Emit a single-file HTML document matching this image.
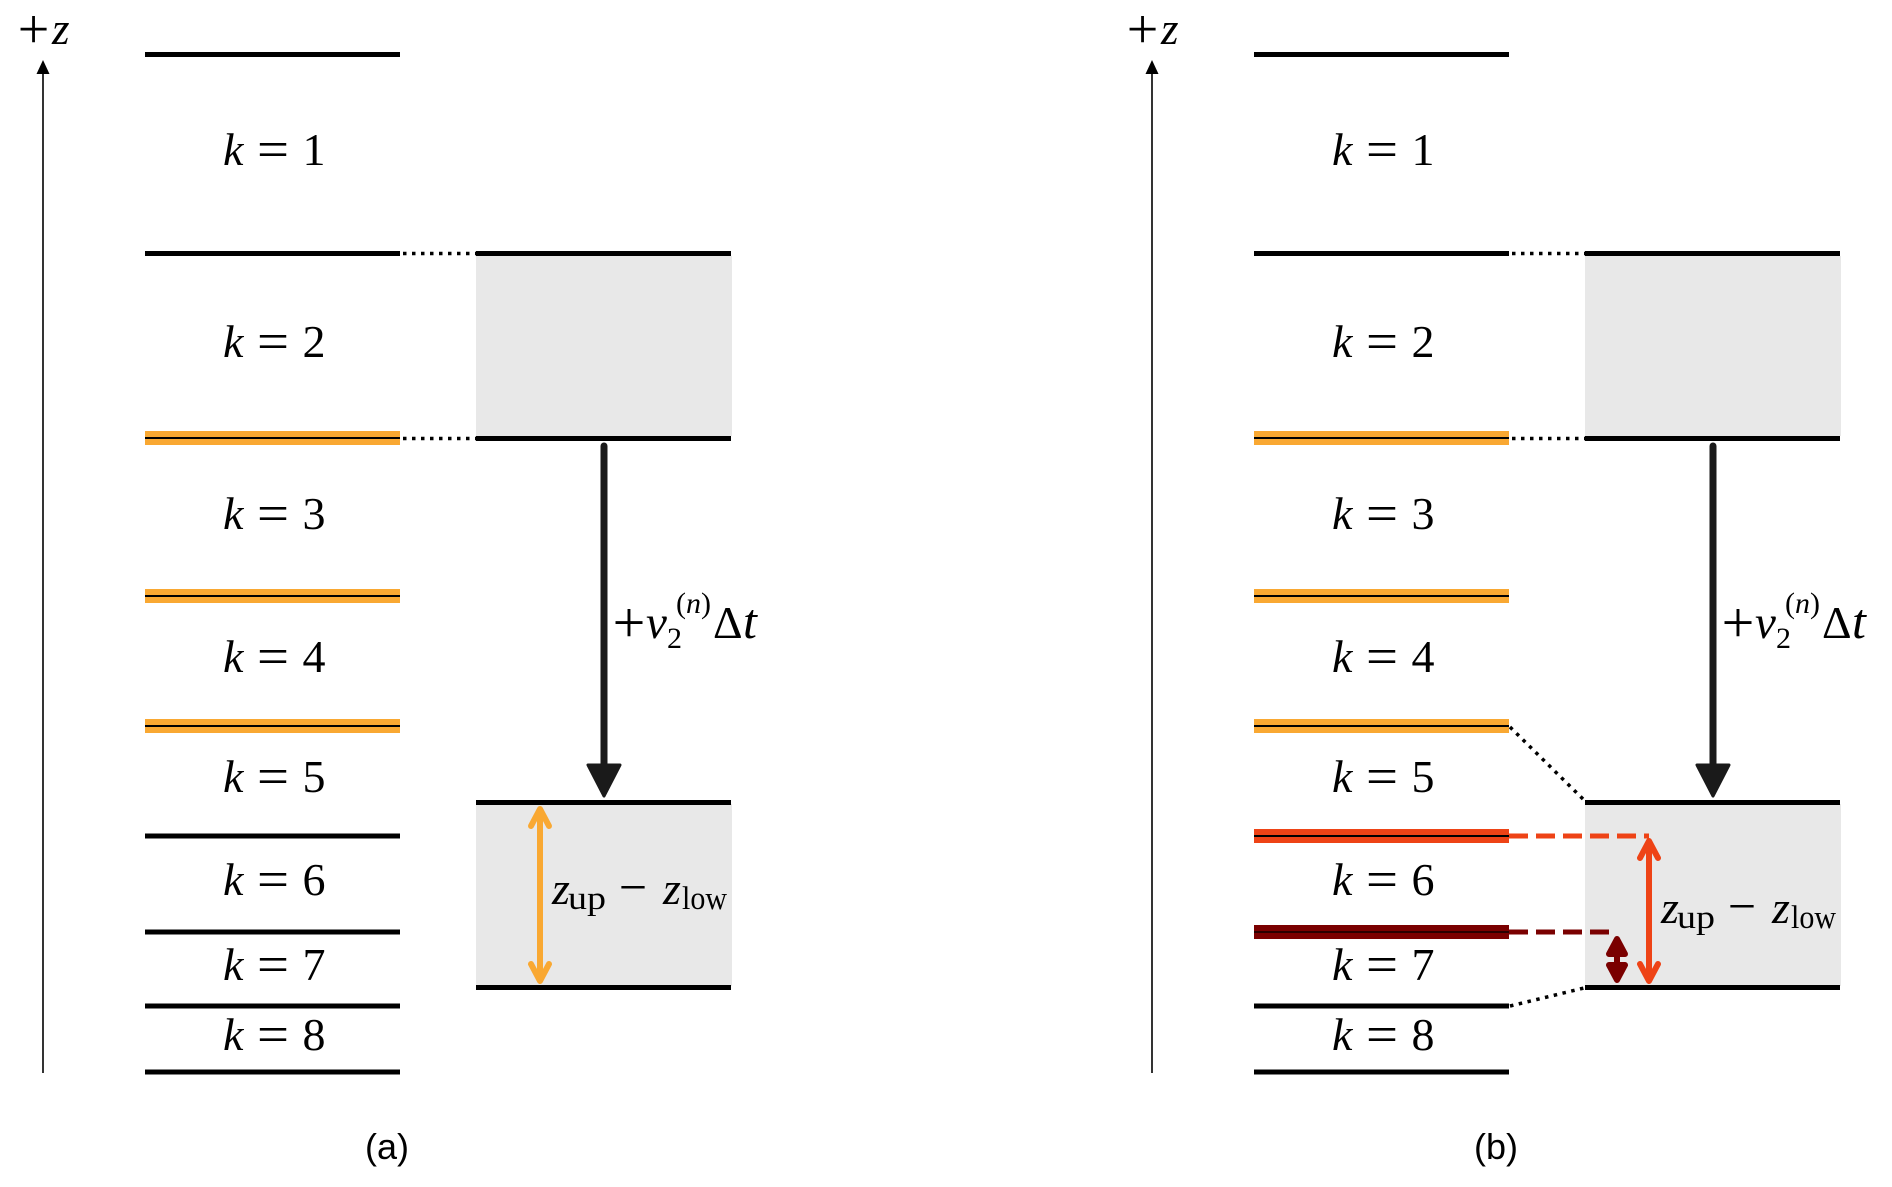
<!DOCTYPE html>
<html>
<head>
<meta charset="utf-8">
<style>
html,body{margin:0;padding:0;background:#fff;}
svg{display:block;}
text{font-family:"Liberation Serif","DejaVu Serif",serif;fill:#000;}
.it{font-style:italic;}
.sans{font-family:"Liberation Sans","DejaVu Sans",sans-serif;}
</style>
</head>
<body>
<svg width="1892" height="1187" viewBox="0 0 1892 1187" xmlns="http://www.w3.org/2000/svg">
<rect x="0" y="0" width="1892" height="1187" fill="#fff"/>

<!-- ================= PANEL A ================= -->
<g>
  <!-- axis -->
  <line x1="43" y1="1073" x2="43" y2="70" stroke="#000" stroke-width="1.6"/>
  <polygon points="43,60 36.5,74 49.5,74" fill="#000"/>
  <text x="33.5" y="48" font-size="56" text-anchor="middle">+</text>
  <text x="52" y="44" font-size="45" class="it">z</text>

  <!-- boxes -->
  <rect x="476" y="256" width="256" height="180" fill="#e8e8e8"/>
  <rect x="476" y="804" width="256" height="182" fill="#e8e8e8"/>

  <!-- black layer lines -->
  <g stroke="#000" stroke-width="5">
    <line x1="145" y1="54.5" x2="400" y2="54.5"/>
    <line x1="145" y1="253.5" x2="400" y2="253.5"/>
    <line x1="145" y1="836" x2="400" y2="836"/>
    <line x1="145" y1="932" x2="400" y2="932"/>
    <line x1="145" y1="1006" x2="400" y2="1006"/>
    <line x1="145" y1="1072" x2="400" y2="1072"/>
    <line x1="476" y1="253.5" x2="731" y2="253.5"/>
    <line x1="476" y1="438.5" x2="731" y2="438.5"/>
    <line x1="476" y1="802.5" x2="731" y2="802.5"/>
    <line x1="476" y1="987.5" x2="731" y2="987.5"/>
  </g>
  <!-- orange lines -->
  <g>
    <rect x="145" y="431" width="255" height="14" fill="#f9a832"/>
    <line x1="145" y1="438" x2="400" y2="438" stroke="#000" stroke-width="2"/>
    <rect x="145" y="589" width="255" height="14" fill="#f9a832"/>
    <line x1="145" y1="596" x2="400" y2="596" stroke="#000" stroke-width="2"/>
    <rect x="145" y="719" width="255" height="14" fill="#f9a832"/>
    <line x1="145" y1="726" x2="400" y2="726" stroke="#000" stroke-width="2"/>
  </g>
  <!-- dotted connectors -->
  <g stroke="#000" stroke-width="3.5" stroke-dasharray="3.5 5.5">
    <line x1="403" y1="253.5" x2="476" y2="253.5"/>
    <line x1="403" y1="438.5" x2="476" y2="438.5"/>
  </g>

  <!-- thick arrow -->
  <line x1="604" y1="446" x2="604" y2="770" stroke="#1a1a1a" stroke-width="7" stroke-linecap="round"/>
  <polygon points="588,765 620,765 604,796" fill="#1a1a1a" stroke="#1a1a1a" stroke-width="3" stroke-linejoin="round"/>

  <!-- +v label -->
  <text x="629" y="642" font-size="58" text-anchor="middle">+</text>
  <text x="646" y="638" font-size="47" class="it">v</text>
  <text x="667" y="648" font-size="30">2</text>
  <text x="676" y="613" font-size="30">(<tspan class="it">n</tspan>)</text>
  <text x="713" y="638" font-size="46">Δ</text>
  <text x="743" y="638" font-size="50" class="it">t</text>

  <!-- k labels -->
  <g font-size="46">
    <text x="223" y="165" class="it">k</text><text x="273" y="167" font-size="52" text-anchor="middle" textLength="32" lengthAdjust="spacingAndGlyphs">=</text><text x="314" y="165" text-anchor="middle">1</text>
    <text x="223" y="357" class="it">k</text><text x="273" y="359" font-size="52" text-anchor="middle" textLength="32" lengthAdjust="spacingAndGlyphs">=</text><text x="314" y="357" text-anchor="middle">2</text>
    <text x="223" y="529" class="it">k</text><text x="273" y="531" font-size="52" text-anchor="middle" textLength="32" lengthAdjust="spacingAndGlyphs">=</text><text x="314" y="529" text-anchor="middle">3</text>
    <text x="223" y="672" class="it">k</text><text x="273" y="674" font-size="52" text-anchor="middle" textLength="32" lengthAdjust="spacingAndGlyphs">=</text><text x="314" y="672" text-anchor="middle">4</text>
    <text x="223" y="792" class="it">k</text><text x="273" y="794" font-size="52" text-anchor="middle" textLength="32" lengthAdjust="spacingAndGlyphs">=</text><text x="314" y="792" text-anchor="middle">5</text>
    <text x="223" y="895" class="it">k</text><text x="273" y="897" font-size="52" text-anchor="middle" textLength="32" lengthAdjust="spacingAndGlyphs">=</text><text x="314" y="895" text-anchor="middle">6</text>
    <text x="223" y="980" class="it">k</text><text x="273" y="982" font-size="52" text-anchor="middle" textLength="32" lengthAdjust="spacingAndGlyphs">=</text><text x="314" y="980" text-anchor="middle">7</text>
    <text x="223" y="1050" class="it">k</text><text x="273" y="1052" font-size="52" text-anchor="middle" textLength="32" lengthAdjust="spacingAndGlyphs">=</text><text x="314" y="1050" text-anchor="middle">8</text>
  </g>

  <!-- orange double arrow -->
  <g stroke="#f9a832" stroke-width="6" stroke-linecap="round" stroke-linejoin="round" fill="none">
    <line x1="540" y1="812" x2="540" y2="978"/>
    <polyline points="531,826 540,809 549,826"/>
    <polyline points="531,964 540,981 549,964"/>
  </g>

  <!-- z_up - z_low -->
  <text x="552" y="904" font-size="46" class="it">z</text>
  <text x="568" y="909" font-size="33" textLength="38" lengthAdjust="spacingAndGlyphs">up</text>
  <text x="633" y="904" font-size="50" text-anchor="middle">−</text>
  <text x="663" y="904" font-size="46" class="it">z</text>
  <text x="682" y="909" font-size="33" textLength="45" lengthAdjust="spacingAndGlyphs">low</text>

  <text x="387" y="1159" font-size="36" class="sans" text-anchor="middle">(a)</text>
</g>

<!-- ================= PANEL B ================= -->
<g transform="translate(1109,0)">
  <!-- axis -->
  <line x1="43" y1="1073" x2="43" y2="70" stroke="#000" stroke-width="1.6"/>
  <polygon points="43,60 36.5,74 49.5,74" fill="#000"/>
  <text x="33.5" y="48" font-size="56" text-anchor="middle">+</text>
  <text x="52" y="44" font-size="45" class="it">z</text>

  <!-- boxes -->
  <rect x="476" y="256" width="256" height="180" fill="#e8e8e8"/>
  <rect x="476" y="804" width="256" height="182" fill="#e8e8e8"/>

  <!-- black layer lines -->
  <g stroke="#000" stroke-width="5">
    <line x1="145" y1="54.5" x2="400" y2="54.5"/>
    <line x1="145" y1="253.5" x2="400" y2="253.5"/>
    <line x1="145" y1="1006" x2="400" y2="1006"/>
    <line x1="145" y1="1072" x2="400" y2="1072"/>
    <line x1="476" y1="253.5" x2="731" y2="253.5"/>
    <line x1="476" y1="438.5" x2="731" y2="438.5"/>
    <line x1="476" y1="802.5" x2="731" y2="802.5"/>
    <line x1="476" y1="987.5" x2="731" y2="987.5"/>
  </g>
  <!-- orange lines -->
  <g>
    <rect x="145" y="431" width="255" height="14" fill="#f9a832"/>
    <line x1="145" y1="438" x2="400" y2="438" stroke="#000" stroke-width="2"/>
    <rect x="145" y="589" width="255" height="14" fill="#f9a832"/>
    <line x1="145" y1="596" x2="400" y2="596" stroke="#000" stroke-width="2"/>
    <rect x="145" y="719" width="255" height="14" fill="#f9a832"/>
    <line x1="145" y1="726" x2="400" y2="726" stroke="#000" stroke-width="2"/>
  </g>
  <!-- red line -->
  <rect x="145" y="829" width="255" height="14" fill="#ee4316"/>
  <line x1="145" y1="836" x2="400" y2="836" stroke="#000" stroke-width="2"/>
  <!-- dark red line -->
  <rect x="145" y="925" width="255" height="14" fill="#7a0000"/>
  <line x1="145" y1="932" x2="400" y2="932" stroke="#2a0000" stroke-width="2"/>

  <!-- dashed extensions -->
  <line x1="400" y1="836" x2="540" y2="836" stroke="#ee4316" stroke-width="5" stroke-dasharray="19 8"/>
  <line x1="400" y1="932" x2="500" y2="932" stroke="#7a0000" stroke-width="5" stroke-dasharray="19 8"/>

  <!-- dotted connectors -->
  <g stroke="#000" stroke-width="3.5" stroke-dasharray="3.5 5.5">
    <line x1="403" y1="253.5" x2="476" y2="253.5"/>
    <line x1="403" y1="438.5" x2="476" y2="438.5"/>
    <line x1="401" y1="727" x2="475" y2="800"/>
    <line x1="401" y1="1006" x2="475" y2="988"/>
  </g>

  <!-- thick arrow -->
  <line x1="604" y1="446" x2="604" y2="770" stroke="#1a1a1a" stroke-width="7" stroke-linecap="round"/>
  <polygon points="588,765 620,765 604,796" fill="#1a1a1a" stroke="#1a1a1a" stroke-width="3" stroke-linejoin="round"/>

  <!-- +v label -->
  <text x="629" y="642" font-size="58" text-anchor="middle">+</text>
  <text x="646" y="638" font-size="47" class="it">v</text>
  <text x="667" y="648" font-size="30">2</text>
  <text x="676" y="613" font-size="30">(<tspan class="it">n</tspan>)</text>
  <text x="713" y="638" font-size="46">Δ</text>
  <text x="743" y="638" font-size="50" class="it">t</text>

  <!-- k labels -->
  <g font-size="46">
    <text x="223" y="165" class="it">k</text><text x="273" y="167" font-size="52" text-anchor="middle" textLength="32" lengthAdjust="spacingAndGlyphs">=</text><text x="314" y="165" text-anchor="middle">1</text>
    <text x="223" y="357" class="it">k</text><text x="273" y="359" font-size="52" text-anchor="middle" textLength="32" lengthAdjust="spacingAndGlyphs">=</text><text x="314" y="357" text-anchor="middle">2</text>
    <text x="223" y="529" class="it">k</text><text x="273" y="531" font-size="52" text-anchor="middle" textLength="32" lengthAdjust="spacingAndGlyphs">=</text><text x="314" y="529" text-anchor="middle">3</text>
    <text x="223" y="672" class="it">k</text><text x="273" y="674" font-size="52" text-anchor="middle" textLength="32" lengthAdjust="spacingAndGlyphs">=</text><text x="314" y="672" text-anchor="middle">4</text>
    <text x="223" y="792" class="it">k</text><text x="273" y="794" font-size="52" text-anchor="middle" textLength="32" lengthAdjust="spacingAndGlyphs">=</text><text x="314" y="792" text-anchor="middle">5</text>
    <text x="223" y="895" class="it">k</text><text x="273" y="897" font-size="52" text-anchor="middle" textLength="32" lengthAdjust="spacingAndGlyphs">=</text><text x="314" y="895" text-anchor="middle">6</text>
    <text x="223" y="980" class="it">k</text><text x="273" y="982" font-size="52" text-anchor="middle" textLength="32" lengthAdjust="spacingAndGlyphs">=</text><text x="314" y="980" text-anchor="middle">7</text>
    <text x="223" y="1050" class="it">k</text><text x="273" y="1052" font-size="52" text-anchor="middle" textLength="32" lengthAdjust="spacingAndGlyphs">=</text><text x="314" y="1050" text-anchor="middle">8</text>
  </g>

  <!-- red double arrow -->
  <g stroke="#ee4316" stroke-width="6" stroke-linecap="round" stroke-linejoin="round" fill="none">
    <line x1="540" y1="844" x2="540" y2="978"/>
    <polyline points="531,858 540,841 549,858"/>
    <polyline points="531,964 540,981 549,964"/>
  </g>
  <!-- dark red double arrow -->
  <g stroke="#7a0000" stroke-width="6" stroke-linecap="round" stroke-linejoin="round" fill="#7a0000">
    <line x1="508" y1="940" x2="508" y2="978"/>
    <polygon points="500,954 508,939 516,954"/>
    <polygon points="500,965 508,980 516,965"/>
  </g>

  <!-- z_up - z_low -->
  <text x="552" y="923" font-size="46" class="it">z</text>
  <text x="568" y="928" font-size="33" textLength="38" lengthAdjust="spacingAndGlyphs">up</text>
  <text x="633" y="923" font-size="50" text-anchor="middle">−</text>
  <text x="663" y="923" font-size="46" class="it">z</text>
  <text x="682" y="928" font-size="33" textLength="45" lengthAdjust="spacingAndGlyphs">low</text>

  <text x="387" y="1159" font-size="36" class="sans" text-anchor="middle">(b)</text>
</g>
</svg>
</body>
</html>
